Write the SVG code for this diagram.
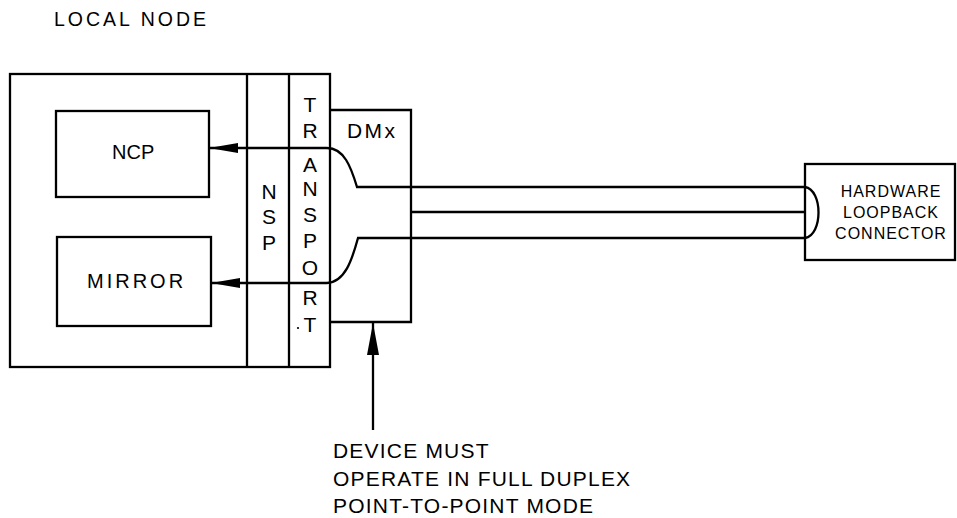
<svg xmlns="http://www.w3.org/2000/svg" width="957" height="518" viewBox="0 0 957 518">
<style>
  .ln { fill: none; stroke: #000; stroke-width: 2.3; stroke-linejoin: miter; }
  .bx { fill: #fff; stroke: #000; stroke-width: 2.3; }
  text { font-family: "Liberation Sans", Arial, Helvetica, sans-serif; fill: #000; }
  .lbl { font-size: 20px; }
  .col { font-size: 21px; text-anchor: middle; }
  .hw { font-size: 16px; text-anchor: middle; letter-spacing: 1px; }
  .note { font-size: 21px; letter-spacing: 1.2px; }
</style>
<defs>
  <marker id="ah" markerUnits="userSpaceOnUse" viewBox="0 0 29 10" refX="29" refY="5" markerWidth="29" markerHeight="10" orient="auto">
    <path d="M0,0 L29,5 L0,10 Z" fill="#000"/>
  </marker>
  <marker id="ah2" markerUnits="userSpaceOnUse" viewBox="0 0 32 12" refX="32" refY="6" markerWidth="32" markerHeight="12" orient="auto">
    <path d="M0,0 L32,6 L0,12 Z" fill="#000"/>
  </marker>
</defs>
<rect width="957" height="518" fill="#fff"/>

<g id="local-node">
  <text x="54" y="26" style="font-size:19.5px;letter-spacing:3px">LOCAL NODE</text>
  <rect class="bx" x="10" y="74" width="320" height="293"/>
</g>

<g id="nsp">
  <line class="ln" x1="247" y1="74" x2="247" y2="367"/>
  <text class="col" x="269" y="199">N</text>
  <text class="col" x="269" y="224">S</text>
  <text class="col" x="269" y="250">P</text>
</g>

<g id="transport">
  <line class="ln" x1="289" y1="74" x2="289" y2="367"/>
  <text class="col" x="310" y="112">T</text>
  <text class="col" x="310" y="138">R</text>
  <text class="col" x="310" y="172">A</text>
  <text class="col" x="310" y="196">N</text>
  <text class="col" x="310" y="222">S</text>
  <text class="col" x="310" y="248">P</text>
  <text class="col" x="310" y="275">O</text>
  <text class="col" x="310" y="305">R</text>
  <text class="col" x="310" y="332">T</text>
  <circle cx="298" cy="328" r="1.1" fill="#000"/>
</g>

<g id="ncp">
  <rect class="bx" x="56" y="111" width="153" height="86"/>
  <text class="lbl" x="112" y="159">NCP</text>
</g>

<g id="mirror">
  <rect class="bx" x="57" y="237" width="154" height="89"/>
  <text class="lbl" x="87" y="288" style="letter-spacing:3px">MIRROR</text>
</g>

<g id="dmx">
  <path class="ln" d="M330,110 H411 V322 H330"/>
  <text x="347" y="138" style="font-size:21px;letter-spacing:2.4px">DMx</text>
</g>

<g id="hardware-loopback-connector">
  <rect class="bx" x="805" y="164" width="150" height="96"/>
  <text class="hw" x="891" y="197">HARDWARE</text>
  <text class="hw" x="891" y="218">LOOPBACK</text>
  <text class="hw" x="891" y="239">CONNECTOR</text>
</g>

<g id="note">
  <text class="note" x="333" y="458">DEVICE MUST</text>
  <text class="note" x="333" y="486">OPERATE IN FULL DUPLEX</text>
  <text class="note" x="333" y="513">POINT-TO-POINT MODE</text>
</g>

<g id="connectors">
  <path class="ln" d="M805,187 H357 C351,167 344,148 327,148 H209" marker-end="url(#ah)"/>
  <path class="ln" d="M805,238 H358 C352,260 345,282 327,283 H211" marker-end="url(#ah)"/>
  <line class="ln" x1="411" y1="212" x2="805" y2="212"/>
  <path class="ln" d="M805,187 C823,190 823,235 805,238"/>
  <line class="ln" x1="373" y1="430" x2="373" y2="323" marker-end="url(#ah2)"/>
</g>
</svg>
